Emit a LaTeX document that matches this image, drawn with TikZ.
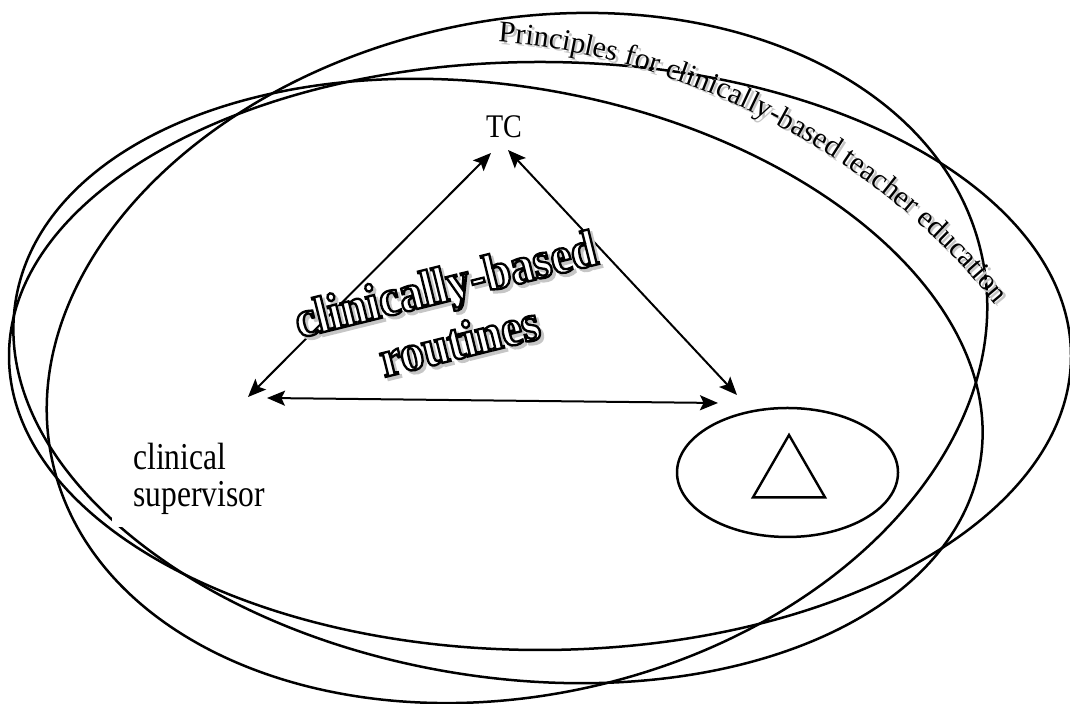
\documentclass[tikz,border=0pt]{standalone}
\usepackage{fontspec}
\setmainfont{Liberation Serif}
\newfontfamily\tcfont[FakeStretch=0.85]{Liberation Serif}
\newfontfamily\csfont[FakeStretch=0.83]{Liberation Serif}
\newfontface\routinefont[FakeBold=4.5, FakeStretch=0.9]{Liberation Serif Bold}
\newcommand{\principlesfont}{\fontsize{15pt}{18pt}\selectfont}
\usetikzlibrary{shapes.geometric, arrows.meta, decorations.text}

\tikzstyle{bigEllipse} = [draw=black, line width=1.25pt]
\tikzstyle{arrow} = [line width=1pt, {Stealth[length=9pt, width=7.5pt, inset=1.8pt]}-{Stealth[length=9pt, width=7.5pt, inset=1.8pt]}]
\tikzstyle{vertexText} = [inner sep=0pt, text=black]
\tikzstyle{classRoom} = [ellipse, draw=black, line width=1.25pt, minimum width=110.5pt, minimum height=64.5pt, inner sep=0pt]
\tikzstyle{deltaMark} = [regular polygon, regular polygon sides=3, draw=black, line width=1.2pt, minimum size=41.6pt, inner sep=0pt]
\tikzstyle{routineText} = [font=\routinefont\fontsize{26pt}{29.2pt}\selectfont, align=center, inner sep=0pt]

\begin{document}
\begin{tikzpicture}[x=0.5pt, y=0.5pt]

	\useasboundingbox (0,0) rectangle (1070,704);

	% outer ellipses
	\draw[bigEllipse, rotate around={12.7:(517,346)}] (517,346) ellipse [x radius=476, y radius=337];
	\draw[bigEllipse] (540,348) ellipse [x radius=531, y radius=294];
	\draw[bigEllipse, rotate around={-9.65:(498,323)}] (498,323) ellipse [x radius=489, y radius=295];

	% curved title with its shadow
	\path[shift={(2.5,-2.5)}, decorate, decoration={text along path, text color=gray!45, text={|\principlesfont|Principles for clinically-based teacher education}}]
		(498,662) .. controls (650,652) and (850,574) .. (985,412) -- ++(30,-36);
	\path[decorate, decoration={text along path, text color=black, text={|\principlesfont|Principles for clinically-based teacher education}}]
		(498,662) .. controls (650,652) and (850,574) .. (985,412) -- ++(30,-36);

	% corners of the triangle
	\coordinate (csTip1) at (248,307);
	\coordinate (csTip2) at (267,306);
	\coordinate (tcTip1) at (491,551);
	\coordinate (tcTip2) at (508,554);
	\coordinate (crTip1) at (737,309);
	\coordinate (crTip2) at (718,301);

	% lines and arrows
	\draw[arrow] (csTip1) -- (tcTip1);
	\draw[arrow] (tcTip2) -- (crTip1);
	\draw[arrow] (csTip2) -- (crTip2);

	% classroom
	\node (classRoom) [classRoom] at (787.5,231.5) {};
	\node (delta) [deltaMark] at (789,227.4) {};

	% labels
	\node (tc) [vertexText, font=\tcfont\fontsize{16.5pt}{18pt}\selectfont, anchor=base] at (504,566.5) {TC};
	\node (clinSup) [font=\csfont\fontsize{19pt}{18.5pt}\selectfont, align=left, fill=white, inner xsep=10.5pt, inner ysep=6pt, anchor=south west] at (112,177) {clinical\\supervisor};

	\coordinate (routineSpot) at (452.3,391.9);
	\node (routinesShadow) [routineText, text=gray!45, rotate=13.9] at ([shift={(3,-3)}]routineSpot) {clinically-based\\routines};
	\node (routines) [routineText, rotate=13.9] at (routineSpot) {\special{pdf:bcolor [1 1 1] [0 0 0]}clinically-based\\routines\special{pdf:ecolor}};

\end{tikzpicture}
\end{document}
